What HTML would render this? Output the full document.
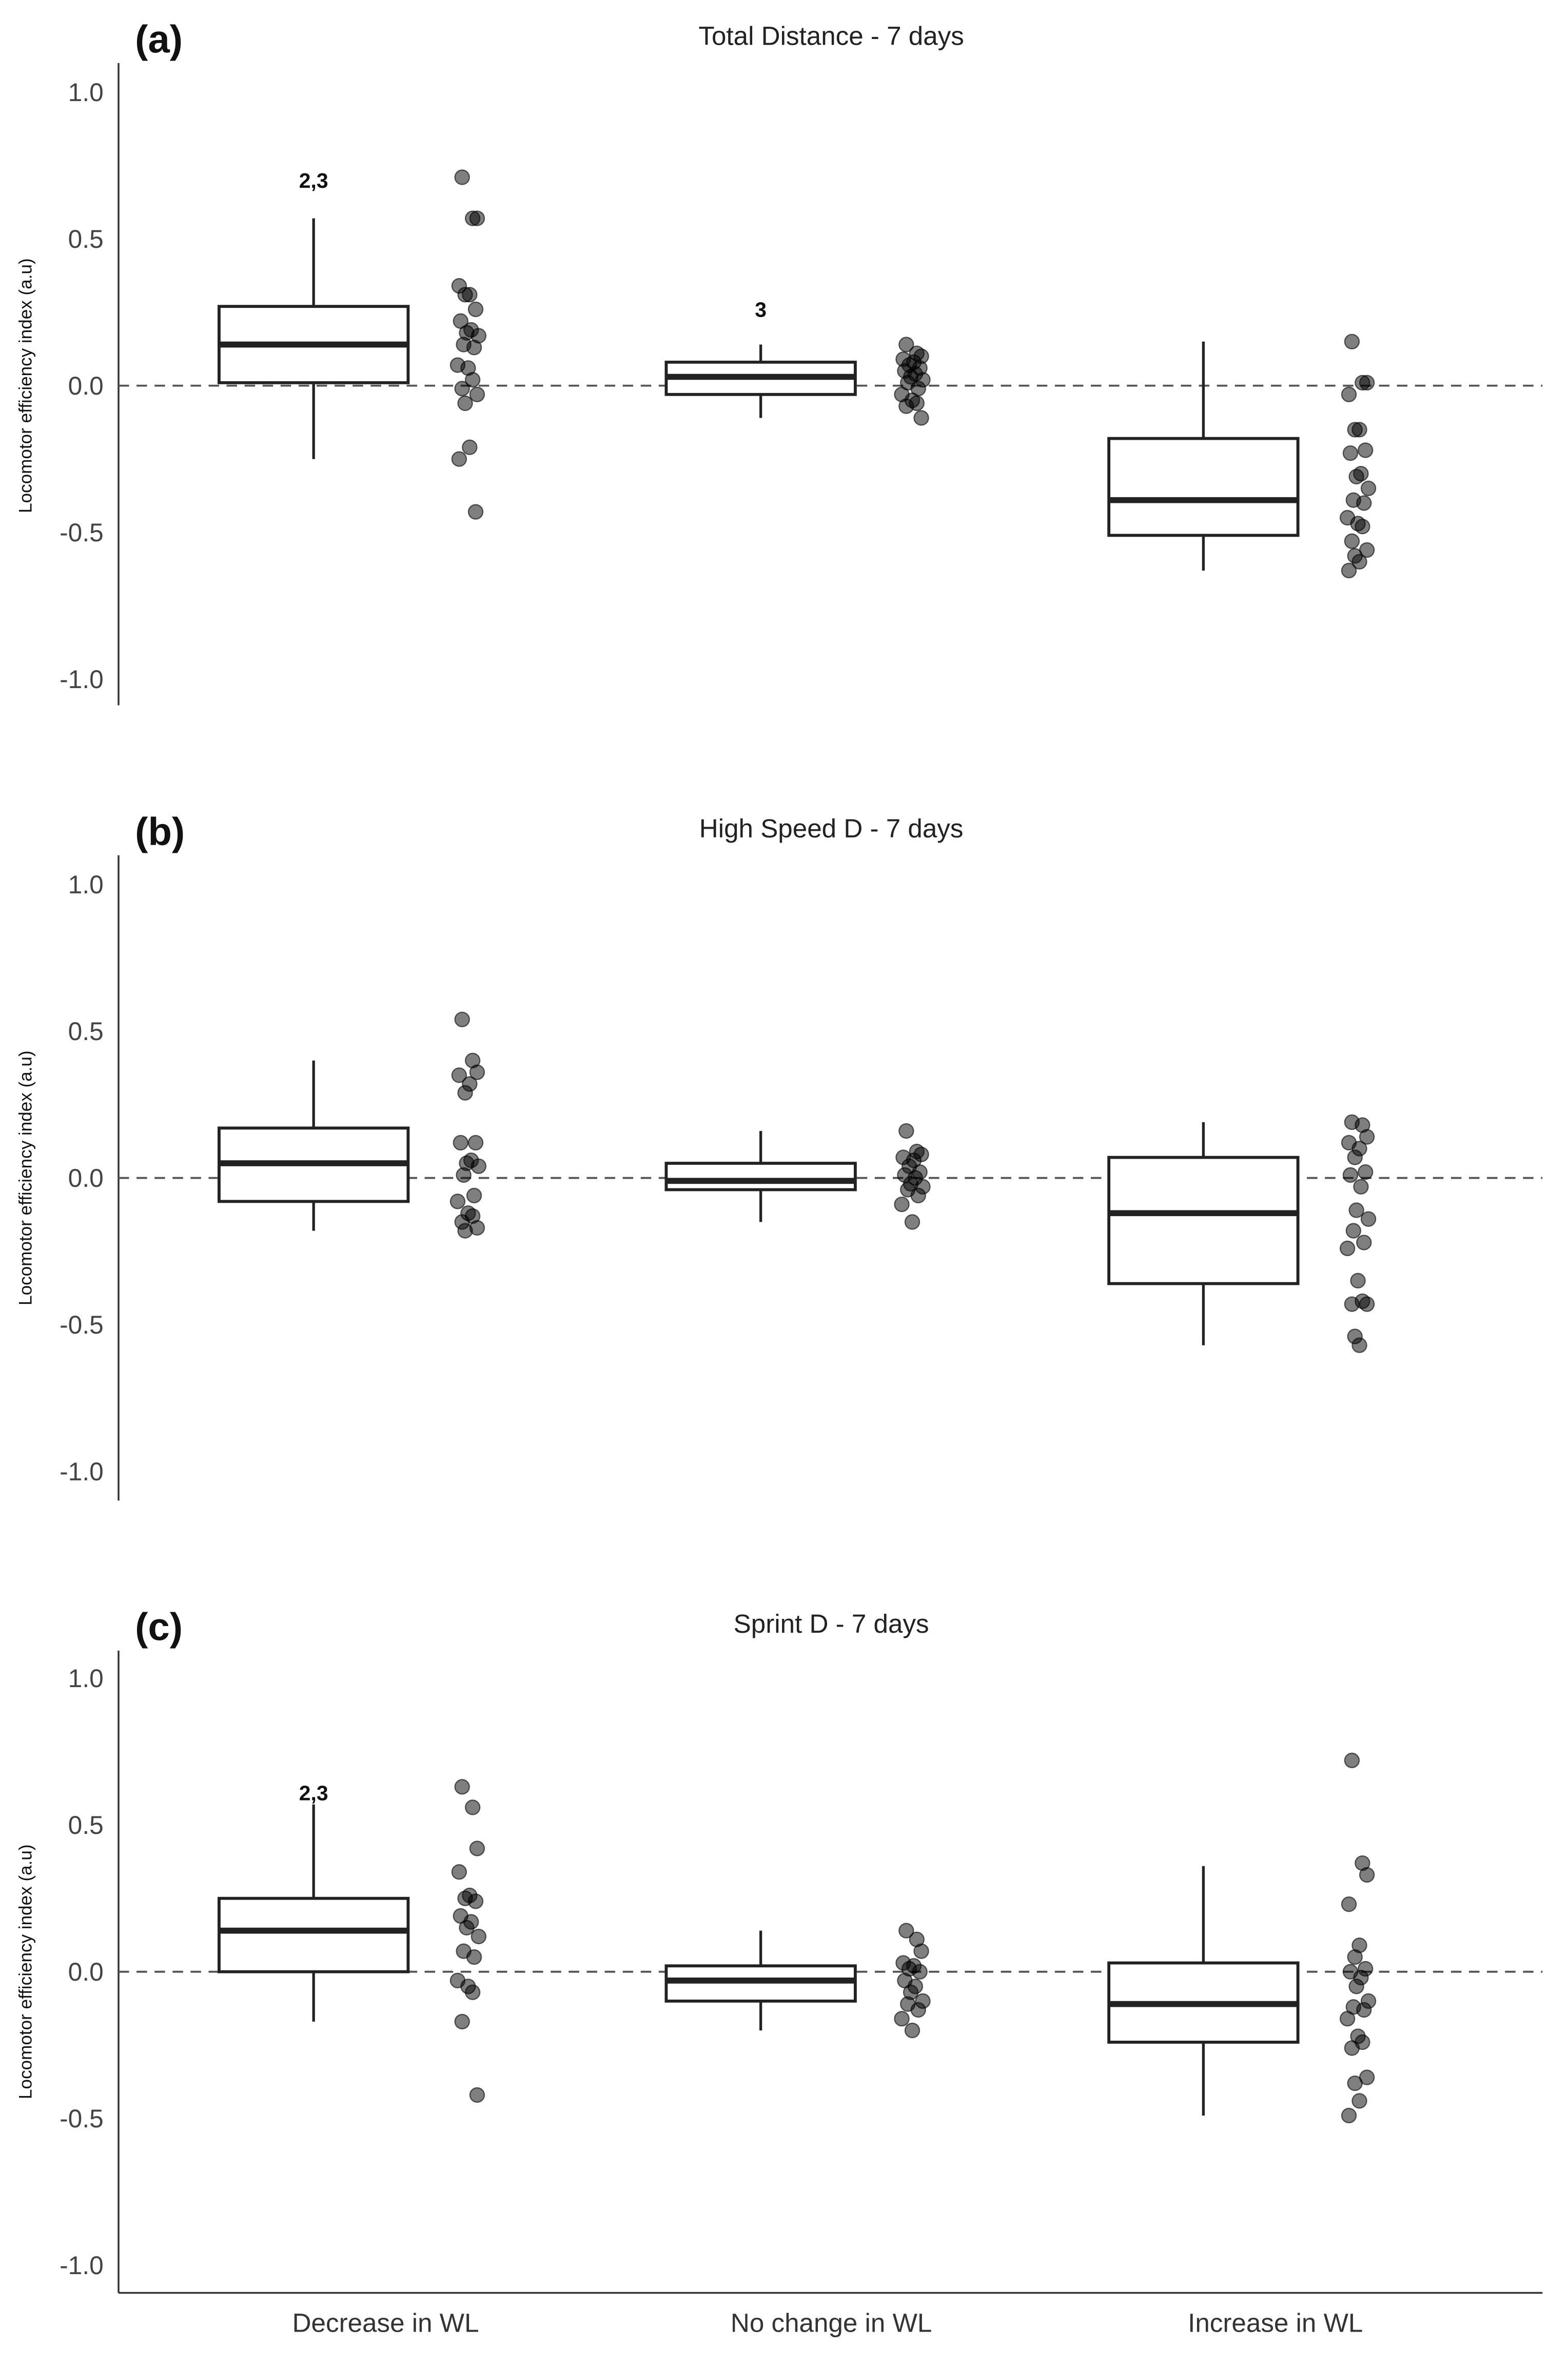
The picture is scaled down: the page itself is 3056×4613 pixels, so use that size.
<!DOCTYPE html>
<html><head><meta charset="utf-8"><style>
html,body{margin:0;padding:0;background:#fff;}
svg{display:block;font-family:"Liberation Sans",sans-serif;}
</style></head><body>
<svg id="chart" width="3056" height="4613" viewBox="0 0 1045 1577.4" xmlns="http://www.w3.org/2000/svg"></svg>
<script>
const categories = ["Decrease in WL","No change in WL","Increase in WL"];
const panelTitles = ["Total Distance - 7 days","High Speed D - 7 days","Sprint D - 7 days"];
const panelLabels = ["(a)","(b)","(c)"];
const yTicks = [1.0,0.5,0.0,-0.5,-1.0];
const yTickLabels = ["1.0","0.5","0.0","-0.5","-1.0"];
// box stats: [whiskerLow, q1, median, q3, whiskerHigh]
const boxesA = [[-0.25,0.01,0.14,0.27,0.57],[-0.11,-0.03,0.03,0.08,0.14],[-0.63,-0.51,-0.39,-0.18,0.15]];
const boxesB = [[-0.18,-0.08,0.05,0.17,0.40],[-0.15,-0.04,-0.01,0.05,0.16],[-0.57,-0.36,-0.12,0.07,0.19]];
const boxesC = [[-0.17,0.00,0.14,0.25,0.57],[-0.20,-0.10,-0.03,0.02,0.14],[-0.49,-0.24,-0.11,0.03,0.36]];
const pointsA = [
 [0.71,0.57,0.57,0.34,0.31,0.31,0.26,0.22,0.19,0.18,0.17,0.14,0.13,0.07,0.06,0.02,-0.01,-0.03,-0.06,-0.21,-0.25,-0.43],
 [0.14,0.11,0.10,0.09,0.08,0.07,0.06,0.05,0.04,0.03,0.02,0.01,-0.01,-0.03,-0.05,-0.06,-0.07,-0.11],
 [0.15,0.01,0.01,-0.03,-0.15,-0.15,-0.22,-0.23,-0.30,-0.31,-0.35,-0.39,-0.40,-0.45,-0.47,-0.48,-0.53,-0.56,-0.58,-0.60,-0.63]];
const pointsB = [
 [0.54,0.40,0.36,0.35,0.32,0.29,0.12,0.12,0.06,0.05,0.04,0.01,-0.06,-0.08,-0.12,-0.13,-0.15,-0.17,-0.18],
 [0.16,0.09,0.08,0.07,0.06,0.04,0.02,0.01,0.00,-0.02,-0.03,-0.04,-0.06,-0.09,-0.15],
 [0.19,0.18,0.14,0.12,0.10,0.07,0.02,0.01,-0.03,-0.11,-0.14,-0.18,-0.22,-0.24,-0.35,-0.42,-0.43,-0.43,-0.54,-0.57]];
const pointsC = [
 [0.63,0.56,0.42,0.34,0.26,0.25,0.24,0.19,0.17,0.15,0.12,0.07,0.05,-0.03,-0.05,-0.07,-0.17,-0.42],
 [0.14,0.11,0.07,0.03,0.02,0.01,0.00,-0.03,-0.05,-0.07,-0.10,-0.11,-0.13,-0.16,-0.20],
 [0.72,0.37,0.33,0.23,0.09,0.05,0.01,0.00,-0.02,-0.05,-0.10,-0.12,-0.13,-0.16,-0.22,-0.24,-0.26,-0.36,-0.38,-0.44,-0.49]];
const annotationsA = [["2,3",0.70],["3",0.26],null];
const annotationsB = [null,null,null];
const annotationsC = [["2,3",0.61],null,null];

const NS="http://www.w3.org/2000/svg";
const svg=document.getElementById('chart');
function mk(tag,attrs,parent){const e=document.createElementNS(NS,tag);for(const k in attrs)e.setAttribute(k,attrs[k]);(parent||svg).appendChild(e);return e;}
const panels=[
 {zero:257,boxes:boxesA,pts:pointsA,ann:annotationsA,top:42,bot:470},
 {zero:785,boxes:boxesB,pts:pointsB,ann:annotationsB,top:570,bot:1000},
 {zero:1314,boxes:boxesC,pts:pointsC,ann:annotationsC,top:1100,bot:1528}];
const AXX=79, RIGHT=1028, UNIT=195.6;
const boxX=[209,507,802], ptX=[312,608,905], halfW=63;
const jit=[-4,3,6,-6,1,-2,5,-5,2,-1,7,-3,4,-7,0,3,-4,6,-2,1,-6,5];
panels.forEach((p,pi)=>{
  const y=v=>p.zero-v*UNIT;
  const g=mk('g',{});
  
  
  const tl=mk('text',{x:554,y:p.top-12,'text-anchor':'middle','font-size':17.5,fill:'#222'},g);
  tl.textContent=panelTitles[pi];
  
  
  const pl=mk('text',{x:90,y:p.top-7,'font-size':26,'font-weight':'bold',fill:'#111'},g);
  pl.textContent=panelLabels[pi];
  
  
  const ax=mk('line',{x1:AXX,x2:AXX,y1:p.top,y2:p.bot,stroke:'#333','stroke-width':1.2},g);
  
  
  yTicks.forEach((t,i)=>{
    const tx=mk('text',{x:69,y:y(t)+6,'text-anchor':'end','font-size':17,fill:'#444'},g);
    tx.textContent=yTickLabels[i];
    
    
  });
  const yt=mk('text',{x:0,y:0,'text-anchor':'middle','font-size':12,fill:'#111',transform:`translate(21,${p.zero}) rotate(-90)`},g);
  yt.textContent='Locomotor efficiency index (a.u)';
  
  
  const dl=mk('line',{x1:AXX,x2:RIGHT,y1:y(0),y2:y(0),stroke:'#555','stroke-width':1.3,'stroke-dasharray':'7,5'},g);
  
  
  p.boxes.forEach((b,ci)=>{
    const cx=boxX[ci];
    const w=mk('line',{x1:cx,x2:cx,y1:y(b[0]),y2:y(b[4]),stroke:'#222','stroke-width':1.8},g);
    
    
    const r=mk('rect',{x:cx-halfW,y:y(b[3]),width:halfW*2,height:y(b[1])-y(b[3]),fill:'#fff',stroke:'#222','stroke-width':2},g);
    
    
    const m=mk('line',{x1:cx-halfW,x2:cx+halfW,y1:y(b[2]),y2:y(b[2]),stroke:'#222','stroke-width':4},g);
    
    
    p.pts[ci].forEach((v,k)=>{
      const c=mk('circle',{cx:ptX[ci]+jit[k%jit.length],cy:y(v),r:4.8,fill:'rgba(0,0,0,0.5)',stroke:'rgba(0,0,0,0.6)','stroke-width':0.8},g);
      
      
    });
    const a=p.ann[ci];
    if(a){
      const at=mk('text',{x:cx,y:y(a[1])+5,'text-anchor':'middle','font-size':14,'font-weight':'bold',fill:'#111'},g);
      at.textContent=a[0];
      
      
    }
  });
});
const xa=mk('line',{x1:AXX,x2:RIGHT,y1:1528,y2:1528,stroke:'#333','stroke-width':1.2});


categories.forEach((c,i)=>{
  const t=mk('text',{x:[257,554,850][i],y:1554,'text-anchor':'middle','font-size':17.5,fill:'#333'});
  t.textContent=c;
  
  
});
</script>
</body></html>
